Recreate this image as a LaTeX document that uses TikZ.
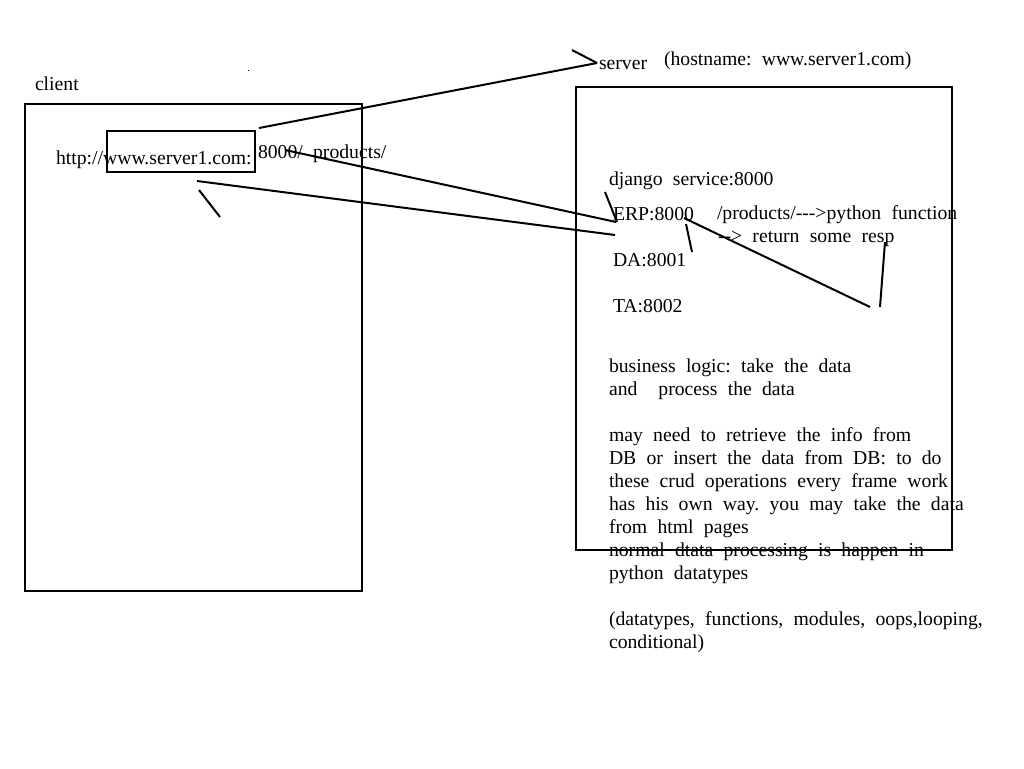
\documentclass[tikz,border=0pt]{standalone}
\usepackage{fontspec}
\setmainfont{Liberation Serif}[Ligatures=TeXOff]
\newcommand{\sktxt}{\fontsize{19.7}{23}\selectfont\frenchspacing\spaceskip=0.52em\relax}
\begin{document}
\begin{tikzpicture}[x=1pt,y=-1pt,
  ink/.style={line width=2pt,black},
  lbl/.style={anchor=base west,inner sep=0pt,outer sep=0pt,font=\sktxt}]
\useasboundingbox[fill=white] (0,0) rectangle (1024,768);
% boxes
\draw[ink] (25,104) rectangle (362,591);
\draw[ink] (576,87) rectangle (952,550);
\draw[ink] (107,131) rectangle (255,172);
\fill (247.5,69.5) rectangle (248.5,70.5);
% labels
\node[lbl] (client) at (35,90) {client};
\node[lbl] (url) at (56,164) {http://www.server1.com:};
\node[lbl] (port) at (258,158) {8000/ products/};
\node[lbl] (server) at (599,69) {server};
\node[lbl] (host) at (664,65) {(hostname:  www.server1.com)};
\node[lbl] (django) at (609,185) {django  service:8000};
\node[lbl] (erp) at (613,220) {ERP:8000};
\node[lbl] (prod) at (717,219) {/products/--->python  function};
\node[lbl] (ret) at (718,242) {--> return  some  resp};
\node[lbl] (da) at (613,266) {DA:8001};
\node[lbl] (ta) at (613,312) {TA:8002};
\node[lbl] (p1) at (609,372) {business  logic:  take  the  data};
\node[lbl] (p2) at (609,395) {and\hspace{21pt}process  the  data};
\node[lbl] (p3) at (609,441) {may  need  to  retrieve  the  info  from};
\node[lbl] (p4) at (609,464) {DB  or  insert  the  data  from  DB:  to  do};
\node[lbl] (p5) at (609,487) {these  crud  operations  every  frame  work};
\node[lbl] (p6) at (609,510) {has  his  own  way.  you  may  take  the  data};
\node[lbl] (p7) at (609,533) {from  html  pages};
\node[lbl] (p8) at (609,556) {normal  dtata  processing  is  happen  in};
\node[lbl] (p9) at (609,579) {python  datatypes};
\node[lbl] (p10) at (609,625) {(datatypes,  functions,  modules,  oops,looping,};
\node[lbl] (p11) at (609,648) {conditional)};
% redraw server box edges over text
\draw[ink] (576,550) -- (952,550) -- (952,87);
% connector end points
\coordinate (a1) at (259,128); \coordinate (a2) at (597,63);
\coordinate (b1) at (572,50);
\coordinate (c1) at (285,150); \coordinate (c2) at (616,222);
\coordinate (d1) at (605,192); \coordinate (d2) at (617,222);
\coordinate (e1) at (197,181); \coordinate (e2) at (615,235);
\coordinate (f1) at (199,190); \coordinate (f2) at (220,217);
\coordinate (g1) at (684,218); \coordinate (g2) at (870,307);
\coordinate (h1) at (686,224); \coordinate (h2) at (692,252);
\coordinate (i1) at (885,242); \coordinate (i2) at (880,307);
\draw[ink] (a1) -- (a2);
\draw[ink] (b1) -- (a2);
\draw[ink] (c1) -- (c2);
\draw[ink] (d1) -- (d2);
\draw[ink] (e1) -- (e2);
\draw[ink] (f1) -- (f2);
\draw[ink] (g1) -- (g2);
\draw[ink] (h1) -- (h2);
\draw[ink] (i1) -- (i2);
\end{tikzpicture}
\end{document}
